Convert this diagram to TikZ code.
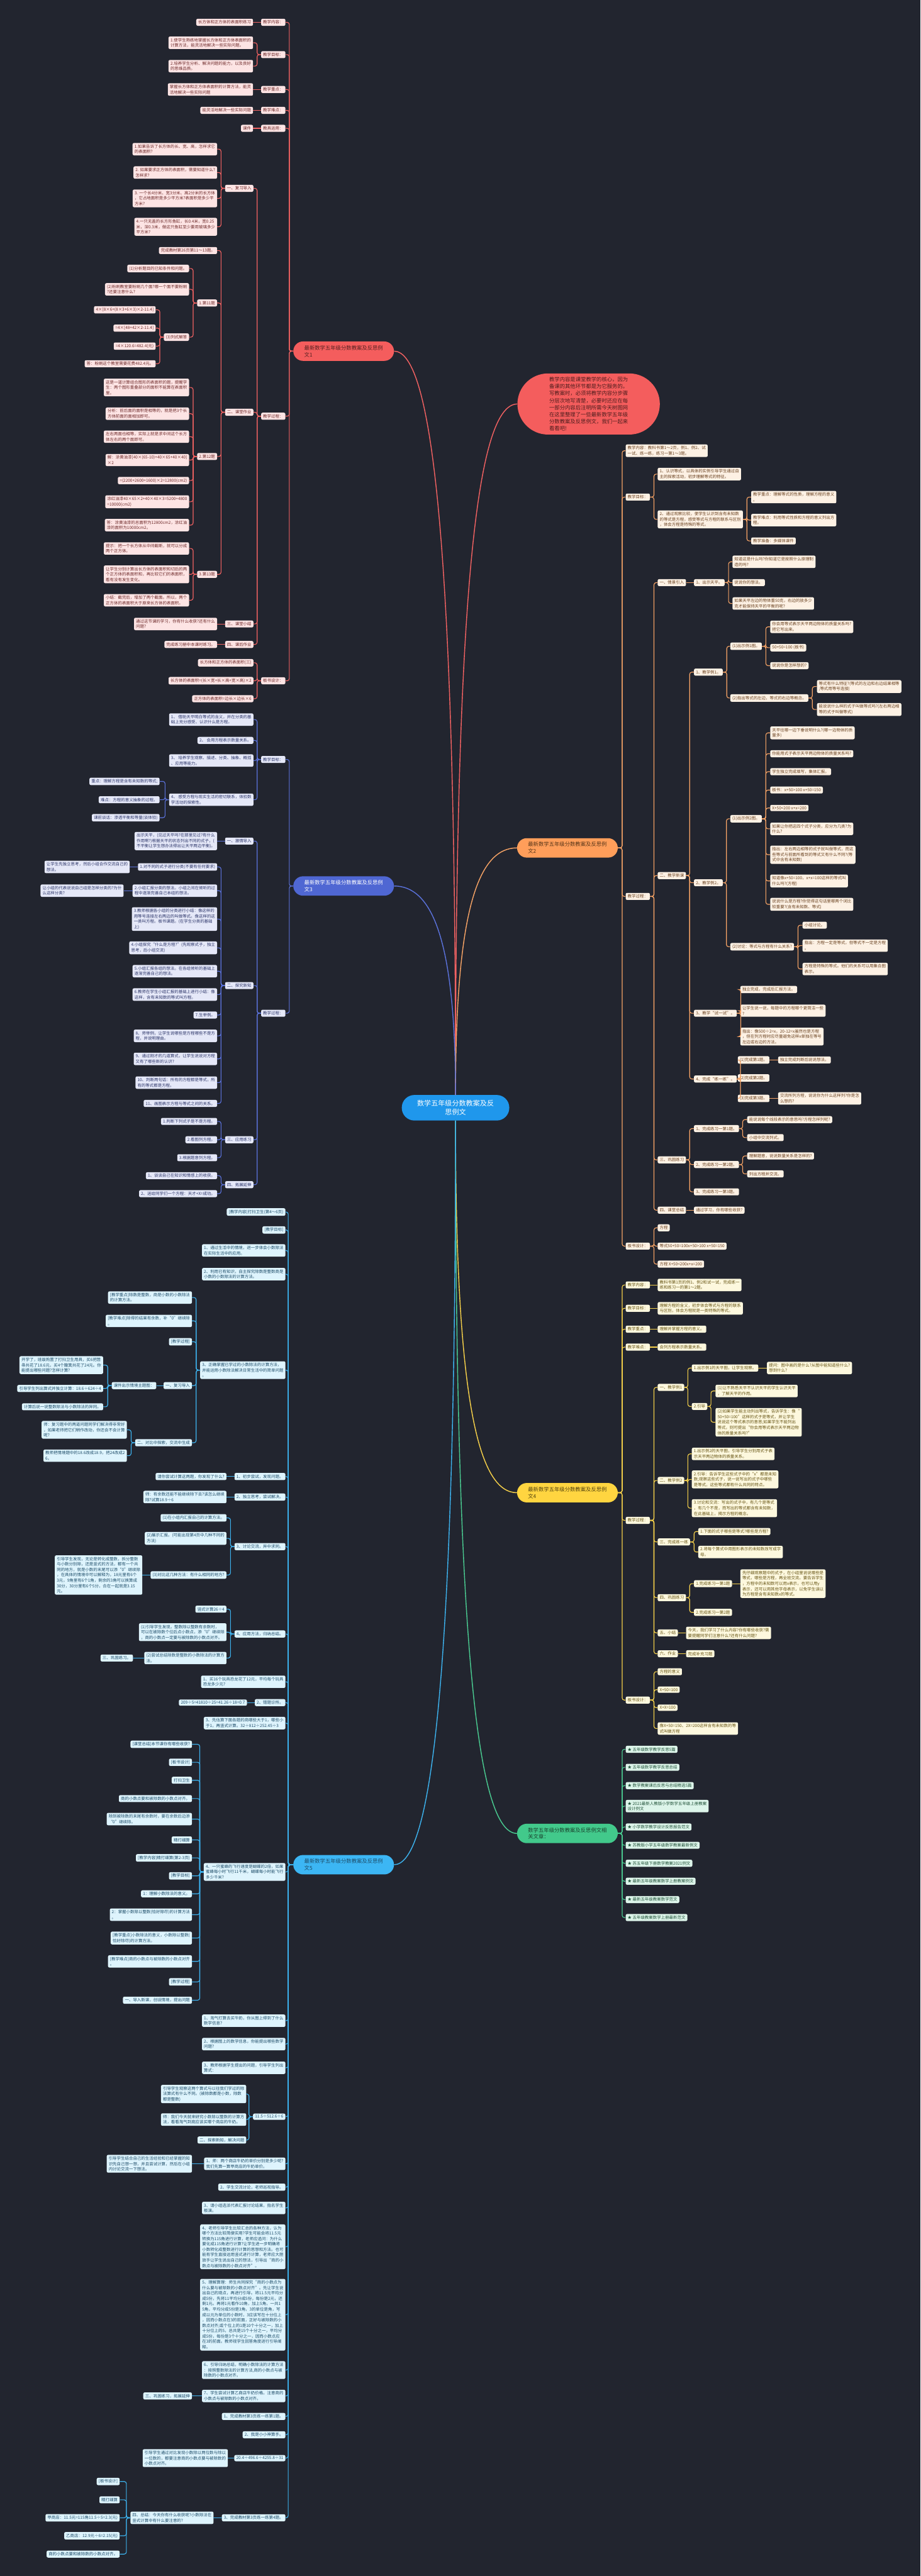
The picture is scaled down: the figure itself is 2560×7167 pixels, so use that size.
\documentclass[tikz,border=0pt]{standalone}
\usepackage{fontspec}
\setmainfont{Noto Sans CJK SC}
\definecolor{bgc}{HTML}{22252F}
\definecolor{rootC}{HTML}{1F97EC}
\definecolor{redN}{HTML}{F45D5D}
\definecolor{redL}{HTML}{FDE4E4}
\definecolor{redT}{HTML}{6E2A2A}
\definecolor{redE}{HTML}{F26262}
\definecolor{orgN}{HTML}{FF9E5A}
\definecolor{orgL}{HTML}{FDF1E4}
\definecolor{orgT}{HTML}{6A4220}
\definecolor{orgE}{HTML}{F7A466}
\definecolor{bluN}{HTML}{4F67D3}
\definecolor{bluL}{HTML}{E5E8F8}
\definecolor{bluT}{HTML}{2C3569}
\definecolor{bluE}{HTML}{5B72DB}
\definecolor{yelN}{HTML}{FFD540}
\definecolor{yelL}{HTML}{FDF8DE}
\definecolor{yelT}{HTML}{665413}
\definecolor{yelE}{HTML}{F6D14A}
\definecolor{grnN}{HTML}{42C98B}
\definecolor{grnL}{HTML}{DDF5EA}
\definecolor{grnT}{HTML}{215239}
\definecolor{grnE}{HTML}{4ACB91}
\definecolor{cyaN}{HTML}{3CB6F4}
\definecolor{cyaL}{HTML}{DEF4FD}
\definecolor{cyaT}{HTML}{1D4C68}
\definecolor{cyaE}{HTML}{3DB3EF}
\tikzset{
  leaf/.style={rounded corners=4pt, inner xsep=5.5pt, inner ysep=4.5pt, align=left, font=\fontsize{11.3}{15}\selectfont},
  rl/.style={leaf, fill=redL, text=redT, anchor=east},
  bl/.style={leaf, fill=bluL, text=bluT, anchor=east},
  cl/.style={leaf, fill=cyaL, text=cyaT, anchor=east},
  ol/.style={leaf, fill=orgL, text=orgT, anchor=west},
  yl/.style={leaf, fill=yelL, text=yelT, anchor=west},
  gl/.style={leaf, fill=grnL, text=grnT, anchor=west},
  topic/.style={rounded corners=27pt, minimum height=54pt, minimum width=280pt, inner xsep=30pt, align=left, font=\fontsize{14.6}{19}\selectfont},
  re/.style={draw=redE, line width=2pt, rounded corners=6pt},
  be/.style={draw=bluE, line width=2pt, rounded corners=6pt},
  ce/.style={draw=cyaE, line width=2pt, rounded corners=6pt},
  oe/.style={draw=orgE, line width=2pt, rounded corners=6pt},
  ye/.style={draw=yelE, line width=2pt, rounded corners=6pt},
  ge/.style={draw=grnE, line width=2pt, rounded corners=6pt},
  me/.style={line width=2.5pt}
}
\begin{document}
\begin{tikzpicture}[x=1pt, y=-1pt]
\fill[bgc] (0,0) rectangle (2560,7167);
\useasboundingbox (0,0) rectangle (2560,7167);

% centre
\node[fill=rootC, text=white, rounded corners=35pt, minimum width=299pt, minimum height=71pt, align=center, font=\fontsize{19.4}{24}\selectfont] (root) at (1267,3082) {数学五年级分数教案及反\\思例文};

% summary
\node[fill=redN, text=redT!70!black, rounded corners=85pt, minimum width=396pt, minimum height=170pt, align=left, font=\fontsize{14.6}{19.4}\selectfont, anchor=west] (sm) at (1439,1124) {教学内容是课堂教学的核心，因为\\备课的其他环节都是为它服务的。\\写教案时，必须将教学内容分步骤\\分层次地写清楚，必要时还应在每\\一部分内容后注明所需今天树图网\\在这里整理了一些最新数学五年级\\分数教案及反思例文，我们一起来\\看看吧!};

% ---------------- 例文1 ----------------
\node[topic, fill=redN, text=redT!80!black, anchor=east] (b1) at (1096,977) {最新数学五年级分数教案及反思例\\文1};
\node[rl] (a1) at (794,62) {教学内容：};
\node[rl] (a1x) at (704,62) {长方体和正方体的表面积练习};
\node[rl] (a2) at (794,152) {教学目标：};
\node[rl] (a2x) at (704,119) {1.使学生熟练地掌握长方体和正方体表面积的\\计算方法，能灵活地解决一些实际问题。};
\node[rl] (a2y) at (704,184) {2.培养学生分析、解决问题的能力，以及良好\\的思维品质。};
\node[rl] (a3) at (794,249) {教学重点：};
\node[rl] (a3x) at (704,249) {掌握长方体和正方体表面积的计算方法，能灵\\活地解决一些实际问题};
\node[rl] (a4) at (794,307) {教学难点：};
\node[rl] (a4x) at (704,307) {能灵活地解决一些实际问题};
\node[rl] (a5) at (794,357) {教具运用：};
\node[rl] (a5x) at (704,357) {课件};
\node[rl] (a6) at (794,1158) {教学过程：};
\node[rl] (a61) at (705,524) {一、复习导入};
\node[rl] (a61a) at (604,415) {1.如果告诉了长方体的长、宽、高，怎样求它\\的表面积?};
\node[rl] (a61b) at (604,480) {2. 如果要求正方体的表面积，需要知道什么?\\怎样求?};
\node[rl] (a61c) at (604,552) {3. 一个长4分米、宽3分米、高2分米的长方体\\，它占地面积是多少平方米?表面积是多少平\\方米?};
\node[rl] (a61d) at (604,631) {4.一只无盖的长方形鱼缸，长0.4米，宽0.25\\米，深0.3米，做这只鱼缸至少要用玻璃多少\\平方米?};
\node[rl] (a62) at (705,1147) {二、课堂作业};
\node[rl] (a62a) at (604,697) {完成教材第26页第11～13题。};
\node[rl] (a62b) at (604,843) {1.第11题};
\node[rl] (a62b1) at (526,747) {(1)分析题目的已知条件和问题。};
\node[rl] (a62b2) at (526,805) {(2)粉刷教室要粉刷几个面?哪一个面不要粉刷\\?还要注意什么?};
\node[rl] (a62b3) at (526,938) {(3)列式解答};
\node[rl] (a62b3a) at (433,862) {4×[8×6+(8×3+6×3)×2-11.4]};
\node[rl] (a62b3b) at (433,913) {=4×[48+42×2-11.4]};
\node[rl] (a62b3c) at (433,963) {=4×120.6=482.4(元)};
\node[rl] (a62b3d) at (433,1012) {答：粉刷这个教室需要花费482.4元。};
\node[rl] (a62c) at (604,1270) {2.第12题};
\node[rl] (a62c1) at (526,1078) {这是一道计算组合图形的表面积的题，提醒学\\生：两个图形重叠部分的面积不能算在表面积\\里。};
\node[rl] (a62c2) at (526,1151) {分析：前后面的面积是相等的，就是把3个长\\方体前面的面相加即可。};
\node[rl] (a62c3) at (526,1215) {左右两面也相等，实际上就是求中间这个长方\\体左右的两个面即可。};
\node[rl] (a62c4) at (526,1280) {解：涂黄油漆[40×(65-10)+40×65+40×40]\\×2};
\node[rl] (a62c5) at (526,1337) {=(2200+2600+1600)×2=12800(cm2)};
\node[rl] (a62c6) at (526,1396) {涂红油漆40×65×2+40×40×3=5200+4800\\=10000(cm2)};
\node[rl] (a62c7) at (526,1461) {答：涂黄油漆的总面积为12800cm2，涂红油\\漆的面积为10000cm2。};
\node[rl] (a62d) at (604,1598) {3.第13题};
\node[rl] (a62d1) at (526,1526) {提示：把一个长方体从中间截断，就可以分成\\两个正方体。};
\node[rl] (a62d2) at (526,1598) {让学生分别计算出长方体的表面积和切后的两\\个正方体的表面积和，再比较它们的表面积，\\看有没有发生变化。};
\node[rl] (a62d3) at (526,1670) {小结：截完后，增加了两个截面。所以，两个\\正方体的表面积大于原来长方体的表面积。};
\node[rl] (a63) at (705,1736) {三、课堂小结};
\node[rl] (a63a) at (604,1736) {通过这节课的学习，你有什么收获?还有什么\\问题?};
\node[rl] (a64) at (705,1793) {四、课后作业};
\node[rl] (a64a) at (604,1793) {完成练习册中本课时练习。};
\node[rl] (a7) at (794,1894) {板书设计：};
\node[rl] (a7a) at (705,1844) {长方体和正方体的表面积(三)};
\node[rl] (a7b) at (705,1894) {长方体的表面积=(长×宽+长×高+宽×高)×2};
\node[rl] (a7c) at (705,1944) {正方体的表面积=边长×边长×6};

\foreach \k in {a1,a2,a3,a4,a5,a6,a7} \draw[re] (b1.west) -- ++(-11,0) |- (\k.east);
\draw[re] (a1.west) -- (a1x.east);
\foreach \k in {a2x,a2y} \draw[re] (a2.west) -- ++(-11,0) |- (\k.east);
\draw[re] (a3.west) -- (a3x.east);
\draw[re] (a4.west) -- (a4x.east);
\draw[re] (a5.west) -- (a5x.east);
\foreach \k in {a61,a62,a63,a64} \draw[re] (a6.west) -- ++(-11,0) |- (\k.east);
\foreach \k in {a61a,a61b,a61c,a61d} \draw[re] (a61.west) -- ++(-11,0) |- (\k.east);
\foreach \k in {a62a,a62b,a62c,a62d} \draw[re] (a62.west) -- ++(-11,0) |- (\k.east);
\foreach \k in {a62b1,a62b2,a62b3} \draw[re] (a62b.west) -- ++(-11,0) |- (\k.east);
\foreach \k in {a62b3a,a62b3b,a62b3c,a62b3d} \draw[re] (a62b3.west) -- ++(-11,0) |- (\k.east);
\foreach \k in {a62c1,a62c2,a62c3,a62c4,a62c5,a62c6,a62c7} \draw[re] (a62c.west) -- ++(-11,0) |- (\k.east);
\foreach \k in {a62d1,a62d2,a62d3} \draw[re] (a62d.west) -- ++(-11,0) |- (\k.east);
\draw[re] (a63.west) -- (a63a.east);
\draw[re] (a64.west) -- (a64a.east);
\foreach \k in {a7a,a7b,a7c} \draw[re] (a7.west) -- ++(-11,0) |- (\k.east);

% ---------------- 例文3 ----------------
\node[topic, fill=bluN, text=white, anchor=east] (b3) at (1096,2465) {最新数学五年级分数教案及反思例\\文3};
\node[bl] (c1) at (794,2113) {教学目标：};
\node[bl] (c1a) at (705,2002) {1、 借助天平明白等式的含义，并在分类的基\\础上充分感受、认识什么是方程。};
\node[bl] (c1b) at (705,2060) {2、 会用方程表示数量关系。};
\node[bl] (c1c) at (705,2116) {3、 培养学生观察、描述、分类、抽象、概括\\、应用等能力。};
\node[bl] (c1d) at (705,2225) {4、 感受方程与现实生活的密切联系，体验数\\学活动的探索性。};
\node[bl] (c1d1) at (444,2174) {重点：理解方程是含有未知数的等式;};
\node[bl] (c1d2) at (444,2225) {难点：方程的意义抽象的过程。};
\node[bl] (c1d3) at (444,2275) {课前谈话：渗透平衡和等量(谈体验)};
\node[bl] (c2) at (794,2819) {教学过程：};
\node[bl] (c21) at (705,2340) {一、激情导入};
\node[bl] (c21a) at (604,2340) {出示天平，(见过天平吗?在那里见过?有什么\\作用啊?)根据天平的状态列出不同的式子，(\\不平衡让学生想办法得出让天平两边平衡)。};
\node[bl] (c22) at (705,2742) {二、探究新知};
\node[bl] (c22a) at (604,2412) {1.对不同的式子进行分类(不要有任何要求)};
\node[bl] (c22a1) at (361,2412) {让学生先独立思考，然后小组合作交流自己的\\想法。};
\node[bl] (c22b) at (604,2478) {2.小组汇报分类的想法。小组之间在倾听的过\\程中逐渐完善自己本组的想法。};
\node[bl] (c22b1) at (344,2478) {让小组的代表说说自己组是怎样分类的?为什\\么这样分类?};
\node[bl] (c22c) at (604,2557) {3.教师根据各小组的分类进行小结：像这样的\\用等号连接左右两边的叫做等式。像这样的这\\一类叫方程。板书课题。(在学生分类的基础\\上)};
\node[bl] (c22d) at (604,2637) {4.小组探究“什么是方程?”(先观察式子，独立\\思考，后小组交流)};
\node[bl] (c22e) at (604,2702) {5.小组汇报各组的想法。在各组倾听的基础上\\逐渐完善自己的想法。};
\node[bl] (c22f) at (604,2767) {6.教师在学生小组汇报的基础上进行小结：像\\这样，含有未知数的等式叫方程。};
\node[bl] (c22g) at (604,2824) {7.生举例。};
\node[bl] (c22h) at (604,2882) {8、师举例，让学生说哪些是方程哪些不是方\\程，并说明理由。};
\node[bl] (c22i) at (604,2946) {9、通过刚才的几道算式，让学生说说对方程\\又有了哪些新的认识?};
\node[bl] (c22j) at (604,3012) {10、判断两句话：所有的方程都是等式，所\\有的等式都是方程。};
\node[bl] (c22k) at (604,3070) {11、画图表示方程与等式之间的关系。};
\node[bl] (c23) at (705,3171) {三、应用练习};
\node[bl] (c23a) at (604,3120) {1.判断下列式子是不是方程。};
\node[bl] (c23b) at (604,3171) {2.看图列方程。};
\node[bl] (c23c) at (604,3221) {3.根据题意列方程。};
\node[bl] (c24) at (705,3296) {四、拓展延伸};
\node[bl] (c24a) at (604,3271) {1、谈谈自己在知识和情感上的收获。};
\node[bl] (c24b) at (604,3321) {2、送给同学们一个方程：天才+X=成功。};

\foreach \k in {c1,c2} \draw[be] (b3.west) -- ++(-11,0) |- (\k.east);
\foreach \k in {c1a,c1b,c1c,c1d} \draw[be] (c1.west) -- ++(-11,0) |- (\k.east);
\foreach \k in {c1d1,c1d2,c1d3} \draw[be] (c1d.west) -- ++(-11,0) |- (\k.east);
\foreach \k in {c21,c22,c23,c24} \draw[be] (c2.west) -- ++(-11,0) |- (\k.east);
\draw[be] (c21.west) -- (c21a.east);
\foreach \k in {c22a,c22b,c22c,c22d,c22e,c22f,c22g,c22h,c22i,c22j,c22k} \draw[be] (c22.west) -- ++(-11,0) |- (\k.east);
\draw[be] (c22a.west) -- (c22a1.east);
\draw[be] (c22b.west) -- (c22b1.east);
\foreach \k in {c23a,c23b,c23c} \draw[be] (c23.west) -- ++(-11,0) |- (\k.east);
\foreach \k in {c24a,c24b} \draw[be] (c24.west) -- ++(-11,0) |- (\k.east);

% ---------------- 例文5 ----------------
\node[topic, fill=cyaN, text=cyaT, anchor=east] (b6) at (1096,5188) {最新数学五年级分数教案及反思例\\文5};
\node[cl] (e1) at (794,3372) {[教学内容]打扫卫生(第4～6页)};
\node[cl] (e2) at (794,3422) {[教学目标]};
\node[cl] (e3) at (794,3479) {1、通过生活中的情境，进一步体会小数除法\\在实际生活中的应用。};
\node[cl] (e4) at (794,3545) {2、利用已有知识，自主探究除数是整数商是\\小数的小数除法的计算方法。};
\node[cl] (e5) at (794,3812) {3、正确掌握已学过的小数除法的计算方法，\\并能运用小数除法解决日常生活中的简单问题\\。};
\node[cl] (e5a) at (534,3610) {[教学重点]除数是整数，商是小数的小数除法\\的计算方法。};
\node[cl] (e5b) at (534,3675) {[教学难点]除得的结果有余数，补“0”继续除\\。};
\node[cl] (e5c) at (534,3733) {[教学过程]};
\node[cl] (e5d) at (534,3855) {一、复习导入};
\node[cl] (e5d1) at (435,3855) {课件出示情境主题图：};
\node[cl] (e5d1a) at (287,3798) {开学了，班级购置了打扫卫生用具，买6把笤\\帚共花了18.6元，买4个簸箕共花了24元。你\\能提出哪些问题?怎样计算?};
\node[cl] (e5d1b) at (287,3863) {引导学生列出算式并独立计算：18.6÷624÷4};
\node[cl] (e5d1c) at (287,3914) {计算后说一说整数除法与小数除法的异同。};
\node[cl] (e5e) at (534,4014) {二、对比中探索，交流中生成};
\node[cl] (e5e1) at (353,3978) {师：复习题中的两道问题同学们解决得非常好\\，如果老师把它们稍作改动，你还会不会计算\\呢?};
\node[cl] (e5e2) at (353,4050) {教师把情境题中的18.6改成18.9，把24改成2\\6。};
\node[cl] (e6) at (794,4108) {1、初步尝试，发现问题。};
\node[cl] (e6a) at (630,4108) {请你尝试计算这两题，你发现了什么?};
\node[cl] (e7) at (794,4165) {2、独立思考，尝试解决。};
\node[cl] (e7a) at (630,4165) {师：有余数还能不能继续除下去?该怎么继续\\除?试算18.9÷6};
\node[cl] (e8) at (794,4303) {3、讨论交流，异中求同。};
\node[cl] (e8a) at (630,4223) {(1)在小组内汇报自己的计算方法。};
\node[cl] (e8b) at (630,4280) {(2)展示汇报。(可能出现第4页中几种不同的\\方法)};
\node[cl] (e8c) at (630,4382) {(3)对比这几种方法：有什么相同的地方?};
\node[cl] (e8c1) at (396,4382) {引导学生发现，无论是转化成整数，拆分整数\\与小数分别除，还是竖式的方法，都有一个共\\同的地方，就是小数的末尾可以添“0”继续除\\，在具体的情境中可以解释为，18元里有6个\\3元，9角里有6个1角，剩余的3角可以换算成\\30分，30分里有6个5分，合在一起就是3.15\\元。};
\node[cl] (e9) at (794,4546) {4、应用方法，归纳总结。};
\node[cl] (e9a) at (630,4477) {竖式计算26÷4};
\node[cl] (e9b) at (630,4541) {(1)引导学生发现，整数除以整数有余数时，\\可以在被除数个位后点小数点，添“0”继续除\\，商的小数点一定要与被除数的小数点对齐。};
\node[cl] (e9c) at (630,4613) {(2)尝试总结除数是整数的小数除法的计算方\\法。};
\node[cl] (e9c1) at (370,4613) {三、巩固练习。};
\node[cl] (e10) at (794,4679) {1、买16个玩具恐龙花了12元，平均每个玩具\\恐龙多少元?};
\node[cl] (e11) at (794,4737) {2、错题诊所。};
\node[cl] (e11a) at (687,4737) {209÷5=41810÷25=41.26÷18=0.7};
\node[cl] (e12) at (794,4794) {3、先估算下面各题的商哪些大于1，哪些小\\于1，再竖式计算。32÷812÷252.45÷3};
\node[cl] (e13) at (794,5208) {4、一只蜜蜂的飞行速度是蝴蝶的2倍，如果\\蜜蜂每小时飞行11千米，蝴蝶每小时能飞行\\多少千米?};
\node[cl] (e13a) at (534,4853) {[课堂总结]本节课你有哪些收获?};
\node[cl] (e13b) at (534,4903) {[板书设计]};
\node[cl] (e13c) at (534,4953) {打扫卫生};
\node[cl] (e13d) at (534,5004) {商的小数点要和被除数的小数点对齐。};
\node[cl] (e13e) at (534,5061) {除到被除数的末尾有余数时，要在余数后边添\\“0”继续除。};
\node[cl] (e13f) at (534,5119) {精打细算};
\node[cl] (e13g) at (534,5169) {[教学内容]精打细算(第2-3页)};
\node[cl] (e13h) at (534,5219) {[教学目标]};
\node[cl] (e13i) at (534,5269) {1：理解小数除法的意义。};
\node[cl] (e13j) at (534,5327) {2：掌握小数除以整数(恰好除尽)的计算方法\\。};
\node[cl] (e13k) at (534,5392) {[教学重点]小数除法的意义，小数除以整数(\\恰好除尽)的计算方法。};
\node[cl] (e13l) at (534,5457) {[教学难点]商的小数点与被除数的小数点对齐\\。};
\node[cl] (e13m) at (534,5514) {[教学过程]};
\node[cl] (e13n) at (534,5565) {一、导入新课，创设情境，提出问题};
\node[cl] (e14) at (794,5622) {1、淘气打算去买牛奶，你从图上得到了什么\\数学信息?};
\node[cl] (e15) at (794,5687) {2、根据图上的数学信息，你能提出哪些数学\\问题?};
\node[cl] (e16) at (794,5753) {3、教师根据学生提出的问题，引导学生列出\\算式：};
\node[cl] (e17) at (794,5889) {11.5÷512.6÷6};
\node[cl] (e17a) at (685,5826) {引导学生观察这两个算式与以往我们学过的除\\法算式有什么不同。(被除数都是小数，除数\\都是整数)};
\node[cl] (e17b) at (685,5897) {师：我们今天就来研究小数除以整数的计算方\\法，看看淘气到底应该买哪个商店的牛奶。};
\node[cl] (e17c) at (685,5954) {二、探索新知，解决问题};
\node[cl] (e18) at (794,6020) {1、师：两个商店牛奶的单价分别是多少呢?\\我们先算一算甲商店的牛奶单价。};
\node[cl] (e18a) at (534,6020) {引导学生结合自己的生活经验和已经掌握的知\\识先自己想一想，并且尝试计算，然后在小组\\内讨论交流一下想法。};
\node[cl] (e19) at (794,6085) {2、学生交流讨论，老师巡视指导。};
\node[cl] (e20) at (794,6143) {3、请小组选派代表汇报讨论结果，指名学生\\板演。};
\node[cl] (e21) at (794,6251) {4、老师引导学生比较汇总的各种方法，认为\\哪个方法比较简便实用?学生可能会将11.5元\\转换为115角进行计算，老师应追问：为什么\\要化成115角进行计算?让学生进一步明确将\\小数转化成整数进行计算的思想和方法。也可\\能有学生直接运用竖式进行计算，老师应大胆\\放手让学生说出自己的想法，引导出“商的小\\数点与被除数的小数点对齐”。};
\node[cl] (e22) at (794,6440) {5、理解算理：师生共同探究“商的小数点为\\什么要与被除数的小数点对齐”。先让学生说\\出自己的观点，再进行引导。将11.5元平均分\\成5份，先将11平均分成5份，每份是2元，还\\剩1元。再将1元看作10角，加上5角，一共1\\5角，平均分成5份是3角，3的单位是角，写\\成以元为单位的小数时，3应该写在十分位上\\，因而小数点在3的前面，正好与被除数的小\\数点对齐;或个位上的1是10个十分之一，加上\\十分位上的5，总共是15个十分之一，平均分\\成5份，每份是3个十分之一，因而小数点应\\在3的前面。教师视学生回答角度进行引导阐\\释。};
\node[cl] (e23) at (794,6594) {6、引导归纳总结，明确小数除法的计算方法\\：按照整数除法的计算方法,商的小数点与被\\除数的小数点对齐。};
\node[cl] (e24) at (794,6666) {7、学生尝试计算乙商店牛奶价格，注意商的\\小数点与被除数的小数点对齐。};
\node[cl] (e24a) at (534,6666) {三、巩固练习，拓展延伸};
\node[cl] (e25) at (794,6723) {1、完成教材第3页练一练第1题。};
\node[cl] (e26) at (794,6774) {2、我是小小神算手。};
\node[cl] (e27) at (794,6839) {20.4÷496.6÷4255.8÷31};
\node[cl] (e27a) at (634,6839) {引导学生通过对比发现小数除以两位数与除以\\一位数的，都要注意商的小数点要与被除数的\\小数点对齐。};
\node[cl] (e28) at (794,7005) {3、完成教材第3页练一练第4题。};
\node[cl] (e28a) at (594,7005) {四、总结：今天你有什么收获呢?小数除法在\\竖式计算中有什么要注意的?};
\node[cl] (e28a1) at (333,6904) {[板书设计]};
\node[cl] (e28a2) at (333,6955) {精打细算};
\node[cl] (e28a3) at (333,7005) {甲商店：11.5元=115角11.5÷5=2.3(元)};
\node[cl] (e28a4) at (333,7055) {乙商店：12.9元÷6=2.15(元)};
\node[cl] (e28a5) at (333,7106) {商的小数点要和被除数的小数点对齐。};

\foreach \k in {e1,e2,e3,e4,e5,e6,e7,e8,e9,e10,e11,e12,e13,e14,e15,e16,e17,e18,e19,e20,e21,e22,e23,e24,e25,e26,e27,e28} \draw[ce] (b6.west) -- ++(-14,0) |- (\k.east);
\foreach \k in {e5a,e5b,e5c,e5d,e5e} \draw[ce] (e5.west) -- ++(-11,0) |- (\k.east);
\draw[ce] (e5d.west) -- (e5d1.east);
\foreach \k in {e5d1a,e5d1b,e5d1c} \draw[ce] (e5d1.west) -- ++(-11,0) |- (\k.east);
\foreach \k in {e5e1,e5e2} \draw[ce] (e5e.west) -- ++(-11,0) |- (\k.east);
\draw[ce] (e6.west) -- (e6a.east);
\draw[ce] (e7.west) -- (e7a.east);
\foreach \k in {e8a,e8b,e8c} \draw[ce] (e8.west) -- ++(-11,0) |- (\k.east);
\draw[ce] (e8c.west) -- (e8c1.east);
\foreach \k in {e9a,e9b,e9c} \draw[ce] (e9.west) -- ++(-11,0) |- (\k.east);
\draw[ce] (e9c.west) -- (e9c1.east);
\draw[ce] (e11.west) -- (e11a.east);
\foreach \k in {e13a,e13b,e13c,e13d,e13e,e13f,e13g,e13h,e13i,e13j,e13k,e13l,e13m,e13n} \draw[ce] (e13.west) -- ++(-11,0) |- (\k.east);
\foreach \k in {e17a,e17b,e17c} \draw[ce] (e17.west) -- ++(-11,0) |- (\k.east);
\draw[ce] (e18.west) -- (e18a.east);
\draw[ce] (e24.west) -- (e24a.east);
\draw[ce] (e27.west) -- (e27a.east);
\draw[ce] (e28.west) -- (e28a.east);
\foreach \k in {e28a1,e28a2,e28a3,e28a4,e28a5} \draw[ce] (e28a.west) -- ++(-11,0) |- (\k.east);

% ---------------- 例文2 ----------------
\node[topic, fill=orgN, text=orgT!80!black, anchor=west] (b2) at (1438,2359) {最新数学五年级分数教案及反思例\\文2};
\node[ol] (o1) at (1740,1254) {教学内容：教科书第1～2页，例1、例2、试\\一试、练一练，练习一第1～3题。};
\node[ol] (o2) at (1740,1383) {教学目标：};
\node[ol] (o2a) at (1829,1319) {1、认识等式，以具体的实例引导学生通过自\\主的探索活动，初步理解等式的特征。};
\node[ol] (o2b) at (1829,1445) {2、通过观察比较，使学生认识到含有未知数\\的等式是方程，感受等式与方程的联系与区别\\，体会方程是特殊的等式。};
\node[ol] (o2b1) at (2089,1383) {教学重点：理解等式的性质，理解方程的意义\\。};
\node[ol] (o2b2) at (2089,1447) {教学难点：利用等式性质和方程的意义列出方\\程。};
\node[ol] (o2b3) at (2089,1505) {教学准备：多媒体课件};
\node[ol] (o3) at (1740,2494) {教学过程：};
\node[ol] (o31) at (1829,1621) {一、情景引入};
\node[ol] (o31a) at (1930,1621) {1、出示天平。};
\node[ol] (o31a1) at (2037,1563) {知道这是什么吗?你知道它是按照什么原理制\\造的吗?};
\node[ol] (o31a2) at (2037,1621) {说说你的想法。};
\node[ol] (o31a3) at (2037,1679) {如果天平左边的物体重50克，右边的放多少\\克才能保持天平的平衡的呢?};
\node[ol] (o32) at (1829,2436) {二、教学新课};
\node[ol] (o32a) at (1930,1870) {1、教学例1。};
\node[ol] (o32a1) at (2031,1798) {(1)出示例1图。};
\node[ol] (o32a1a) at (2142,1744) {你会用等式表示天平两边物体的质量关系吗?\\把它写出来。};
\node[ol] (o32a1b) at (2142,1802) {50+50=100 (板书)};
\node[ol] (o32a1c) at (2142,1852) {说说你是怎样想的?};
\node[ol] (o32a2) at (2031,1942) {(2)指出等式的左边，等式的右边等概念。};
\node[ol] (o32a2a) at (2272,1910) {等式有什么特征?(等式的左边和右边结果相等\\;等式用等号连接)};
\node[ol] (o32a2b) at (2272,1974) {能说说什么样的式子叫做等式吗?(左右两边相\\等的式子叫做等式)};
\node[ol] (o32b) at (1930,2456) {2、教学例2。};
\node[ol] (o32b1) at (2031,2278) {(1)出示例2图。};
\node[ol] (o32b1a) at (2142,2039) {天平往哪一边下垂说明什么?(哪一边物体的质\\量多)};
\node[ol] (o32b1b) at (2142,2097) {你能用式子表示天平两边物体的质量关系吗?};
\node[ol] (o32b1c) at (2142,2147) {学生独立完成填写，集体汇报。};
\node[ol] (o32b1d) at (2142,2198) {板书：x+50>100 x+50=150};
\node[ol] (o32b1e) at (2142,2248) {X+50<200 x+x=200};
\node[ol] (o32b1f) at (2142,2306) {如果让你把这四个式子分类，应分为几类?为\\什么?};
\node[ol] (o32b1g) at (2142,2378) {指出：左右两边相等的式子就叫做等式，而这\\些等式与前面所看到的等式又有什么不同?(等\\式中含有未知数)};
\node[ol] (o32b1h) at (2142,2451) {知道像x+50=100，x+x=100这样的等式叫\\什么吗?(方程)};
\node[ol] (o32b1i) at (2142,2516) {说说什么是方程?你觉得这句话里哪两个词比\\较重要?(含有未知数、等式)};
\node[ol] (o32b2) at (2031,2634) {(2)讨论：等式与方程有什么关系?};
\node[ol] (o32b2a) at (2232,2574) {小组讨论。};
\node[ol] (o32b2b) at (2232,2631) {指出：方程一定是等式，但等式不一定是方程\\。};
\node[ol] (o32b2c) at (2232,2696) {方程是特殊的等式。他们的关系可以用集合图\\表示。};
\node[ol] (o32c) at (1930,2819) {3、教学“试一试”。};
\node[ol] (o32c1) at (2059,2753) {独立完成，完成后汇报方法。};
\node[ol] (o32c2) at (2059,2812) {让学生说一说，每题中的方程哪个更简洁一些\\?};
\node[ol] (o32c3) at (2059,2884) {指出：像500÷2=x，20-12=x虽然也是方程\\，但在列方程时应尽量避免这样x单独在等号\\左边或右边的方法。};
\node[ol] (o32d) at (1930,3002) {4、完成“练一练”。};
\node[ol] (o32d1) at (2052,2949) {(1)完成第1题。};
\node[ol] (o32d1a) at (2164,2949) {独立完成判断后说说想法。};
\node[ol] (o32d2) at (2052,2999) {(2)完成第2题。};
\node[ol] (o32d3) at (2052,3056) {(3)完成第3题。};
\node[ol] (o32d3a) at (2164,3056) {交流所列方程，说说你为什么这样列?你是怎\\么想的?};
\node[ol] (o33) at (1829,3227) {三、巩固练习};
\node[ol] (o33a) at (1930,3140) {1、完成练习一第1题。};
\node[ol] (o33a1) at (2078,3115) {能说说每个线段表示的意思吗?方程怎样列呢?};
\node[ol] (o33a2) at (2078,3165) {小组中交流列式。};
\node[ol] (o33b) at (1930,3240) {2、完成练习一第2题。};
\node[ol] (o33b1) at (2078,3216) {理解题意，说说数量关系是怎样的?};
\node[ol] (o33b2) at (2078,3266) {列出方程并交流。};
\node[ol] (o33c) at (1930,3316) {3、完成练习一第3题。};
\node[ol] (o34) at (1829,3367) {四、课堂总结};
\node[ol] (o34a) at (1930,3367) {通过学习，你有哪些收获?};
\node[ol] (o4) at (1740,3467) {板书设计：};
\node[ol] (o4a) at (1829,3416) {方程};
\node[ol] (o4b) at (1829,3467) {等式50+50=100x+50>100 x+50=150};
\node[ol] (o4c) at (1829,3517) {方程 X+50<200x+x=200};

\foreach \k in {o1,o2,o3,o4} \draw[oe] (b2.east) -- ++(12,0) |- (\k.west);
\foreach \k in {o2a,o2b} \draw[oe] (o2.east) -- ++(11,0) |- (\k.west);
\foreach \k in {o2b1,o2b2,o2b3} \draw[oe] (o2b.east) -- ++(11,0) |- (\k.west);
\foreach \k in {o31,o32,o33,o34} \draw[oe] (o3.east) -- ++(11,0) |- (\k.west);
\draw[oe] (o31.east) -- (o31a.west);
\foreach \k in {o31a1,o31a2,o31a3} \draw[oe] (o31a.east) -- ++(11,0) |- (\k.west);
\foreach \k in {o32a,o32b,o32c,o32d} \draw[oe] (o32.east) -- ++(10,0) |- (\k.west);
\foreach \k in {o32a1,o32a2} \draw[oe] (o32a.east) -- ++(11,0) |- (\k.west);
\foreach \k in {o32a1a,o32a1b,o32a1c} \draw[oe] (o32a1.east) -- ++(11,0) |- (\k.west);
\foreach \k in {o32a2a,o32a2b} \draw[oe] (o32a2.east) -- ++(11,0) |- (\k.west);
\foreach \k in {o32b1,o32b2} \draw[oe] (o32b.east) -- ++(10,0) |- (\k.west);
\foreach \k in {o32b1a,o32b1b,o32b1c,o32b1d,o32b1e,o32b1f,o32b1g,o32b1h,o32b1i} \draw[oe] (o32b1.east) -- ++(11,0) |- (\k.west);
\foreach \k in {o32b2a,o32b2b,o32b2c} \draw[oe] (o32b2.east) -- ++(11,0) |- (\k.west);
\foreach \k in {o32c1,o32c2,o32c3} \draw[oe] (o32c.east) -- ++(11,0) |- (\k.west);
\foreach \k in {o32d1,o32d2,o32d3} \draw[oe] (o32d.east) -- ++(10,0) |- (\k.west);
\draw[oe] (o32d1.east) -- (o32d1a.west);
\draw[oe] (o32d3.east) -- (o32d3a.west);
\foreach \k in {o33a,o33b,o33c} \draw[oe] (o33.east) -- ++(10,0) |- (\k.west);
\foreach \k in {o33a1,o33a2} \draw[oe] (o33a.east) -- ++(10,0) |- (\k.west);
\foreach \k in {o33b1,o33b2} \draw[oe] (o33b.east) -- ++(10,0) |- (\k.west);
\draw[oe] (o34.east) -- (o34a.west);
\foreach \k in {o4a,o4b,o4c} \draw[oe] (o4.east) -- ++(11,0) |- (\k.west);

% ---------------- 例文4 ----------------
\node[topic, fill=yelN, text=yelT!80!black, anchor=west] (b4) at (1438,4153) {最新数学五年级分数教案及反思例\\文4};
\node[yl] (y1) at (1740,3575) {教学内容：};
\node[yl] (y1a) at (1829,3575) {教科书第1页的例1、例2和试一试，完成练一\\练和练习一的第1～2题。};
\node[yl] (y2) at (1740,3640) {教学目标：};
\node[yl] (y2a) at (1829,3640) {理解方程的含义，初步体会等式与方程的联系\\与区别，体会方程就是一类特殊的等式。};
\node[yl] (y3) at (1740,3698) {教学重点：};
\node[yl] (y3a) at (1829,3698) {理解并掌握方程的意义。};
\node[yl] (y4) at (1740,3748) {教学难点：};
\node[yl] (y4a) at (1829,3748) {会列方程表示数量关系。};
\node[yl] (y5) at (1740,4230) {教学过程：};
\node[yl] (y51) at (1829,3860) {一、教学例1};
\node[yl] (y51a) at (1924,3806) {1.出示例1的天平图，让学生观察。};
\node[yl] (y51a1) at (2133,3806) {提问：图中画的是什么?从图中能知道些什么?\\想到什么?};
\node[yl] (y51b) at (1924,3913) {2.引导};
\node[yl] (y51b1) at (1990,3870) {(1)让不熟悉天平不认识天平的学生认识天平\\，了解天平的作用。};
\node[yl] (y51b2) at (1990,3957) {(2)如果学生能主动列出等式，告诉学生：像“\\50+50=100”这样的式子是等式，并让学生\\说说这个等式表示的意思;如果学生不能列出\\等式，则可提出“你会用等式表示天平两边物\\体的质量关系吗?”};
\node[yl] (y52) at (1829,4119) {二、教学例2};
\node[yl] (y52a) at (1924,4045) {1.出示例2的天平图，引导学生分别用式子表\\示天平两边物体的质量关系。};
\node[yl] (y52b) at (1924,4116) {2.引导：告诉学生这些式子中的“x”都是未知\\数;观察这些式子，说一说写出的式子中哪些\\是等式，这些等式都有什么共同的特点。};
\node[yl] (y52c) at (1924,4196) {3.讨论和交流：写出的式子中，有几个是等式\\，有几个不是，而写出的等式都含有未知数，\\在此基础上，揭示方程的概念。};
\node[yl] (y53) at (1829,4290) {三、完成练一练};
\node[yl] (y53a) at (1942,4261) {1.下面的式子哪些是等式?哪些是方程?};
\node[yl] (y53b) at (1942,4318) {2.将每个算式中用图形表示的未知数改写成字\\母。};
\node[yl] (y54) at (1829,4445) {四、巩固练习};
\node[yl] (y54a) at (1930,4406) {1.完成练习一第1题};
\node[yl] (y54a1) at (2059,4406) {先仔细观察题中的式子，在小组里说说哪些是\\等式，哪些是方程，再全班交流。要告诉学生\\，方程中的未知数可以用x表示，也可以用y\\表示，还可以用其他字母表示，以免学生误以\\为方程是含有未知数x的等式。};
\node[yl] (y54b) at (1930,4486) {2.完成练习一第2题};
\node[yl] (y55) at (1829,4543) {五、小结};
\node[yl] (y55a) at (1908,4543) {今天，我们学习了什么内容?你有哪些收获?需\\要提醒同学们注意什么?还有什么问题?};
\node[yl] (y56) at (1829,4601) {六、作业};
\node[yl] (y56a) at (1908,4601) {完成补充习题};
\node[yl] (y6) at (1740,4730) {板书设计：};
\node[yl] (y6a) at (1829,4651) {方程的意义};
\node[yl] (y6b) at (1829,4701) {X+50=100};
\node[yl] (y6c) at (1829,4751) {X+X=100};
\node[yl] (y6d) at (1829,4809) {像X+50=150、2X=200这样含有未知数的等\\式叫做方程};

\foreach \k in {y1,y2,y3,y4,y5,y6} \draw[ye] (b4.east) -- ++(12,0) |- (\k.west);
\draw[ye] (y1.east) -- (y1a.west);
\draw[ye] (y2.east) -- (y2a.west);
\draw[ye] (y3.east) -- (y3a.west);
\draw[ye] (y4.east) -- (y4a.west);
\foreach \k in {y51,y52,y53,y54,y55,y56} \draw[ye] (y5.east) -- ++(11,0) |- (\k.west);
\foreach \k in {y51a,y51b} \draw[ye] (y51.east) -- ++(10,0) |- (\k.west);
\draw[ye] (y51a.east) -- (y51a1.west);
\foreach \k in {y51b1,y51b2} \draw[ye] (y51b.east) -- ++(10,0) |- (\k.west);
\foreach \k in {y52a,y52b,y52c} \draw[ye] (y52.east) -- ++(10,0) |- (\k.west);
\foreach \k in {y53a,y53b} \draw[ye] (y53.east) -- ++(11,0) |- (\k.west);
\foreach \k in {y54a,y54b} \draw[ye] (y54.east) -- ++(10,0) |- (\k.west);
\draw[ye] (y54a.east) -- (y54a1.west);
\draw[ye] (y55.east) -- (y55a.west);
\draw[ye] (y56.east) -- (y56a.west);
\foreach \k in {y6a,y6b,y6c,y6d} \draw[ye] (y6.east) -- ++(11,0) |- (\k.west);

% ---------------- 相关文章 ----------------
\node[topic, fill=grnN, text=grnT!80!black, anchor=west] (b5) at (1438,5101) {数学五年级分数教案及反思例文相\\关文章：};
\node[gl] (g1) at (1740,4867) {★ 五年级数学教学反思5篇};
\node[gl] (g2) at (1740,4917) {★ 五年级数学教学反思总结};
\node[gl] (g3) at (1740,4968) {★ 数学教案课后反思与总结精选5篇};
\node[gl] (g4) at (1740,5025) {★ 2021最新人教版小学数学五年级上册教案\\设计例文};
\node[gl] (g5) at (1740,5083) {★ 小学数学教学设计反思报告范文};
\node[gl] (g6) at (1740,5134) {★ 苏教版小学五年级数学教案最新例文};
\node[gl] (g7) at (1740,5184) {★ 苏五年级下册数学教案2021例文};
\node[gl] (g8) at (1740,5234) {★ 最新五年级教案数学上册教案例文};
\node[gl] (g9) at (1740,5285) {★ 最新五年级教案数学范文};
\node[gl] (g10) at (1740,5335) {★ 五年级教案数学上册最新范文};
\foreach \k in {g1,g2,g3,g4,g5,g6,g7,g8,g9,g10} \draw[ge] (b5.east) -- ++(12,0) |- (\k.west);

% main curves
\draw[me, redE] (root.north) .. controls (1267,1494) and (1200,977) .. (b1.east);
\draw[me, redE] (root.north) .. controls (1267,1605) and (1330,1124) .. (sm.west);
\draw[me, orgE] (root.north) .. controls (1267,2531) and (1330,2359) .. (b2.west);
\draw[me, bluE] (root.north) .. controls (1267,2610) and (1200,2465) .. (b3.east);
\draw[me, yelE] (root.south) .. controls (1267,3894) and (1330,4153) .. (b4.west);
\draw[me, grnE] (root.south) .. controls (1267,4605) and (1330,5101) .. (b5.west);
\draw[me, cyaE] (root.south) .. controls (1267,4670) and (1200,5188) .. (b6.east);
\end{tikzpicture}
\end{document}
